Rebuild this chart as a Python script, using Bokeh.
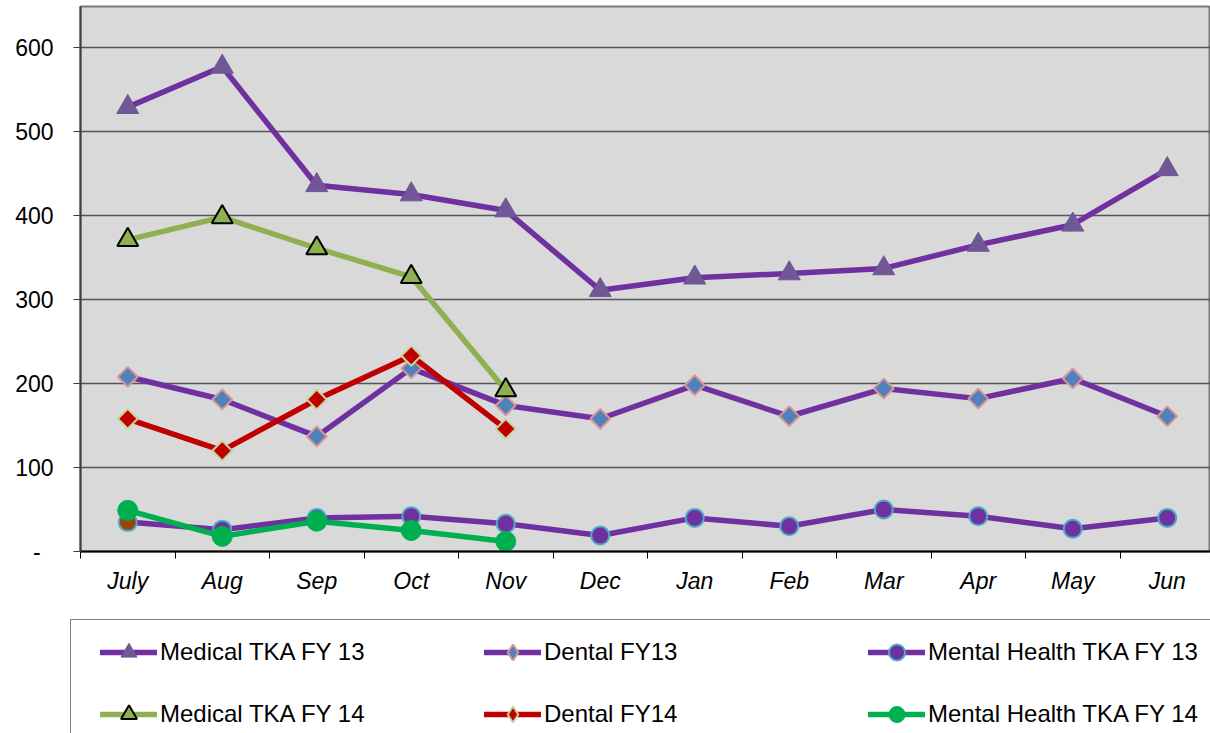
import numpy as np
from bokeh.plotting import figure
from bokeh.models import (ColumnDataSource, Legend, LegendItem, FixedTicker, Range1d)
from bokeh.embed import file_html
from bokeh.resources import INLINE

months = ["July", "Aug", "Sep", "Oct", "Nov", "Dec", "Jan", "Feb", "Mar", "Apr", "May", "Jun"]
medical_fy13 = [529, 577, 436, 425, 406, 311, 326, 331, 337, 365, 389, 455]
dental_fy13 = [208, 181, 137, 218, 174, 158, 198, 161, 194, 182, 206, 161]
mental_fy13 = [35, 26, 40, 42, 33, 19, 40, 30, 50, 42, 27, 40]
medical_fy14 = [371, 398, 361, 327, 192]
dental_fy14 = [158, 120, 181, 233, 146]
mental_fy14 = [49, 18, 36, 25, 12]
series_names = ["Medical TKA FY 13", "Dental FY13", "Mental Health TKA FY 13",
                "Medical TKA FY 14", "Dental FY14", "Mental Health TKA FY 14"]
y_ticks = [0, 100, 200, 300, 400, 500, 600]
y_labels = ["-\u2007", "100", "200", "300", "400", "500", "600"]

FONT = "Liberation Sans"
PURPLE = "#7030A0"

W, H1, H2 = 1210, 610, 123
LEFT, TOP, BOTTOM = 80, 6, 551
p = figure(width=W, height=H1, output_backend="svg", toolbar_location=None,
           x_range=Range1d(-0.5, -0.5 + (W - LEFT) / 94.5),
           y_range=Range1d(0, (BOTTOM - TOP) / 0.84),
           min_border_left=LEFT, min_border_right=0, min_border_top=TOP,
           min_border_bottom=H1 - BOTTOM)
p.background_fill_color = "#D9D9D9"
p.border_fill_color = "white"
p.outline_line_color = "#7a7a7a"
p.outline_line_width = 2

# axes
p.xaxis.ticker = FixedTicker(ticks=list(range(12)),
                             minor_ticks=[i - 0.5 for i in range(13)])
p.xaxis.major_label_overrides = {i: m for i, m in enumerate(months)}
p.xaxis.major_tick_line_color = None
p.xaxis.minor_tick_line_color = "black"
p.xaxis.minor_tick_out = 7
p.xaxis.minor_tick_in = 0
p.xaxis.axis_line_color = "black"
p.xaxis.axis_line_width = 2
p.xaxis.major_label_text_font = FONT
p.xaxis.major_label_text_font_size = "23px"
p.xaxis.major_label_text_font_style = "italic"
p.xaxis.major_label_text_color = "black"
p.xaxis.major_label_standoff = 9

p.yaxis.ticker = FixedTicker(ticks=y_ticks)
p.yaxis.major_label_overrides = {t: l for t, l in zip(y_ticks, y_labels)}
p.yaxis.major_tick_out = 7
p.yaxis.major_tick_in = 0
p.yaxis.major_tick_line_color = "#404040"
p.yaxis.minor_tick_line_color = None
p.yaxis.axis_line_color = "#404040"
p.yaxis.axis_line_width = 2
p.yaxis.major_label_text_font = FONT
p.yaxis.major_label_text_font_size = "23px"
p.yaxis.major_label_text_color = "black"
p.yaxis.major_label_standoff = 20

p.xgrid.grid_line_color = None
p.ygrid.grid_line_color = "#555555"
p.ygrid.grid_line_width = 1.5

x13 = list(range(12))
x14 = list(range(5))

styles = [
    dict(line_color=PURPLE, marker="triangle", size=22, fill="#705896", outline="#705896", ow=1, angle=0.0),
    dict(line_color=PURPLE, marker="square", size=14, fill="#4F81BD", outline="#D99694", ow=2, angle=np.pi / 4),
    dict(line_color=PURPLE, marker="circle", size=18, fill=PURPLE, outline="#4BACC6", ow=2, angle=0.0),
    dict(line_color="#8EB050", marker="triangle", size=21, fill="#8EB050", outline="black", ow=2, angle=0.0),
    dict(line_color="#C00000", marker="square", size=14, fill="#C00000", outline="#C3D69B", ow=2, angle=np.pi / 4),
    dict(line_color="#00B050", marker="circle", size=20, fill="#00B050", outline="#00B050", ow=1, angle=0.0),
]
data = [(x13, medical_fy13), (x13, dental_fy13), (x13, mental_fy13),
        (x14, medical_fy14), (x14, dental_fy14), (x14, mental_fy14)]

sources = []
for i, ((xs, ys), st) in enumerate(zip(data, styles)):
    fills = [st["fill"]] * len(xs)
    if i == 2:
        fills[0] = "#974706"  # highlighted first point
    src = ColumnDataSource(dict(x=xs, y=ys, fill=fills))
    sources.append(src)
    p.line("x", "y", source=src, line_color=st["line_color"], line_width=5.5,
           line_join="round", line_cap="round")
    p.scatter("x", "y", source=src, marker=st["marker"], size=st["size"], angle=st["angle"],
              fill_color="fill", line_color=st["outline"], line_width=st["ow"])

# legend panel: second figure whose ranges show none of the data, so only the legend is seen
p2 = figure(width=W, height=H2, output_backend="svg", toolbar_location=None,
            x_range=Range1d(1000, 1001), y_range=Range1d(5000, 5001),
            x_axis_location=None, y_axis_location=None,
            min_border=0, min_border_left=0, min_border_right=0,
            min_border_top=0, min_border_bottom=0)
p2.grid.visible = False
p2.outline_line_color = None
p2.background_fill_color = "white"
p2.border_fill_color = "white"

items = []
for name, st, src in zip(series_names, styles, sources):
    mk = "diamond" if st["marker"] == "square" else st["marker"]
    ln = p2.line("x", "y", source=src, line_color=st["line_color"], line_width=5.5, line_cap="round")
    sc = p2.scatter("x", "y", source=src, marker=mk, size=st["size"],
                    fill_color=st["fill"], line_color=st["outline"], line_width=st["ow"])
    items.append(LegendItem(label=name, renderers=[ln, sc], index=1))

legend = Legend(items=items, orientation="horizontal", ncols=3,
                location=(70, -14),
                glyph_width=57, glyph_height=40, label_height=40, label_width=302,
                label_standoff=3, spacing=22, padding=12, margin=0,
                label_text_font=FONT, label_text_font_size="24px", label_text_color="black",
                border_line_color="black", border_line_width=1,
                background_fill_color="white", background_fill_alpha=1,
                title=" ", title_location="left", title_text_font_size="1px", title_standoff=16)
p2.add_layout(legend, "center")

open("out.html", "w").write(file_html([p, p2], INLINE))
